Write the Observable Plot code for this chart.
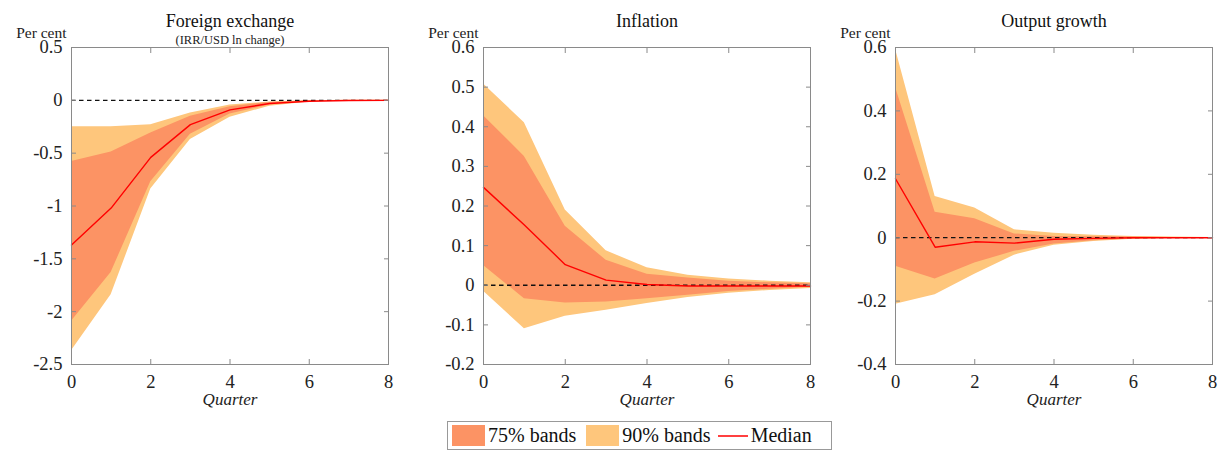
<!DOCTYPE html>
<html><head><meta charset="utf-8">
<script src="https://cdn.jsdelivr.net/npm/d3@7"></script>
<script src="https://cdn.jsdelivr.net/npm/@observablehq/plot@0.6"></script>
</head><body style="margin:0;background:#fff">
<div id="wrap" style="position:relative;width:1225px;height:453px;font-family:serif"></div>
<script>
const quarters = [0,1,2,3,4,5,6,7,8];

const titles = ["Foreign exchange","Inflation","Output growth"];
const subtitles = ["(IRR/USD ln change)","",""];
const yTicks = [[0.5,0,-0.5,-1,-1.5,-2,-2.5],[0.6,0.5,0.4,0.3,0.2,0.1,0,-0.1,-0.2],[0.6,0.4,0.2,0,-0.2,-0.4]];
const yDomains = [[-2.5,0.5],[-0.2,0.6],[-0.4,0.6]];
const xTicks = [0,2,4,6,8];
const legendLabels = ["75% bands","90% bands","Median"];

const fxMedian = [-1.37,-1.02,-0.54,-0.23,-0.09,-0.03,-0.008,-0.002,0];
const fxLo75  = [-2.09,-1.63,-0.77,-0.32,-0.13,-0.045,-0.012,-0.003,0];
const fxHi75  = [-0.58,-0.49,-0.31,-0.15,-0.06,-0.02,-0.005,-0.001,0];
const fxLo90  = [-2.37,-1.84,-0.84,-0.37,-0.16,-0.055,-0.015,-0.005,-0.001];
const fxHi90  = [-0.25,-0.25,-0.23,-0.12,-0.045,-0.015,-0.003,0,0.001];

const infMedian = [0.247,0.152,0.052,0.013,0.002,-0.002,-0.002,-0.002,-0.002];
const infLo75  = [0.05,-0.034,-0.045,-0.042,-0.034,-0.025,-0.016,-0.01,-0.005];
const infHi75  = [0.428,0.325,0.149,0.063,0.028,0.018,0.01,0.006,0.004];
const infLo90  = [-0.015,-0.11,-0.078,-0.063,-0.046,-0.031,-0.02,-0.013,-0.008];
const infHi90  = [0.508,0.41,0.19,0.087,0.044,0.025,0.016,0.01,0.006];

const outMedian = [0.186,-0.03,-0.013,-0.017,-0.005,-0.002,0,0,0];
const outLo75  = [-0.09,-0.13,-0.08,-0.043,-0.02,-0.01,-0.004,-0.002,-0.001];
const outHi75  = [0.475,0.08,0.06,0.012,0.004,0.003,0.002,0.001,0.001];
const outLo90  = [-0.21,-0.18,-0.115,-0.055,-0.024,-0.012,-0.005,-0.002,-0.001];
const outHi90  = [0.595,0.13,0.094,0.025,0.014,0.008,0.004,0.002,0.001];

const C75 = "#fc9364", C90 = "#fec67c", CMED = "#ff0000";
const FONT = "serif";

const series = [
  [fxMedian,fxLo75,fxHi75,fxLo90,fxHi90],
  [infMedian,infLo75,infHi75,infLo90,infHi90],
  [outMedian,outLo75,outHi75,outLo90,outHi90]
];
const layout = [
  {left:0,width:410,ml:71,mr:22},
  {left:410,width:410,ml:73,mr:10},
  {left:820,width:405,ml:75,mr:13}
];

const wrap = document.getElementById("wrap");
series.forEach((s,i)=>{
  const [med,lo75,hi75,lo90,hi90] = s;
  const data = quarters.map((q,j)=>({q,med:med[j],lo75:lo75[j],hi75:hi75[j],lo90:lo90[j],hi90:hi90[j]}));
  const L = layout[i];
  const marks = [
    Plot.areaY(data,{x:"q",y1:"lo90",y2:"hi90",fill:C90}),
    Plot.areaY(data,{x:"q",y1:"lo75",y2:"hi75",fill:C75}),
    Plot.ruleY([0],{stroke:"#111",strokeWidth:1.3,strokeDasharray:"4.5,3.5"}),
    Plot.lineY(data,{x:"q",y:"med",stroke:CMED,strokeWidth:1.4}),
    Plot.frame({stroke:"#8a8a8a",strokeWidth:1}),
    Plot.axisY({anchor:"left",ticks:yTicks[i],tickSize:-5,tickPadding:14,tickFormat:d=>`${d}`,fontSize:18.5,fontFamily:FONT,stroke:"#8a8a8a",fill:"#222",label:null}),
    Plot.axisY({anchor:"right",ticks:yTicks[i],tickSize:-5,tickFormat:()=>"",stroke:"#8a8a8a",label:null}),
    Plot.axisX({anchor:"bottom",ticks:xTicks,tickSize:-5,tickPadding:15,tickFormat:d=>`${d}`,fontSize:18.5,fontFamily:FONT,stroke:"#8a8a8a",fill:"#222",label:null}),
    Plot.axisX({anchor:"top",ticks:xTicks,tickSize:-5,tickFormat:()=>"",stroke:"#8a8a8a",label:null}),
    Plot.text([titles[i]],{frameAnchor:"top",dy:-33,fontSize:18,fontFamily:FONT,fill:"#111"}),
    Plot.text(["Per cent"],{frameAnchor:"top-left",dx:-5,dy:-21,textAnchor:"end",fontSize:15.5,fontFamily:FONT,fill:"#222"}),
    Plot.text(["Quarter"],{frameAnchor:"bottom",dy:40,fontSize:17,fontStyle:"italic",fontFamily:FONT,fill:"#222"})
  ];
  if (subtitles[i]) marks.push(Plot.text([subtitles[i]],{frameAnchor:"top",dy:-12,fontSize:12.5,fontFamily:FONT,fill:"#222"}));
  const p = Plot.plot({
    width:L.width,height:415,marginLeft:L.ml,marginRight:L.mr,marginTop:47,marginBottom:51,
    style:{fontFamily:FONT,background:"white",overflow:"visible"},
    x:{domain:[0,8]},
    y:{domain:yDomains[i]},
    marks
  });
  p.style.position = "absolute";
  p.style.top = "0px";
  p.style.left = L.left+"px";
  wrap.appendChild(p);
});

const lg = document.createElement("div");
lg.setAttribute("style","position:absolute;left:447px;top:421px;width:385px;height:29px;border:1px solid #999;box-sizing:border-box;display:flex;align-items:center;font-size:20px;color:#111;white-space:nowrap;font-family:serif");
const sw = c => `<span style="display:inline-block;width:33px;height:21px;margin:0 3px 0 4px;background:${c}"></span>`;
lg.innerHTML = `${sw(C75)}${legendLabels[0]}<span style="display:inline-block;width:6px"></span>${sw(C90)}${legendLabels[1]}<svg width="39" height="10" style="margin:0 1px 0 0"><line x1="7" x2="37" y1="5" y2="5" stroke="${CMED}" stroke-width="1.5"/></svg>${legendLabels[2]}`;
wrap.appendChild(lg);
</script>
</body></html>
